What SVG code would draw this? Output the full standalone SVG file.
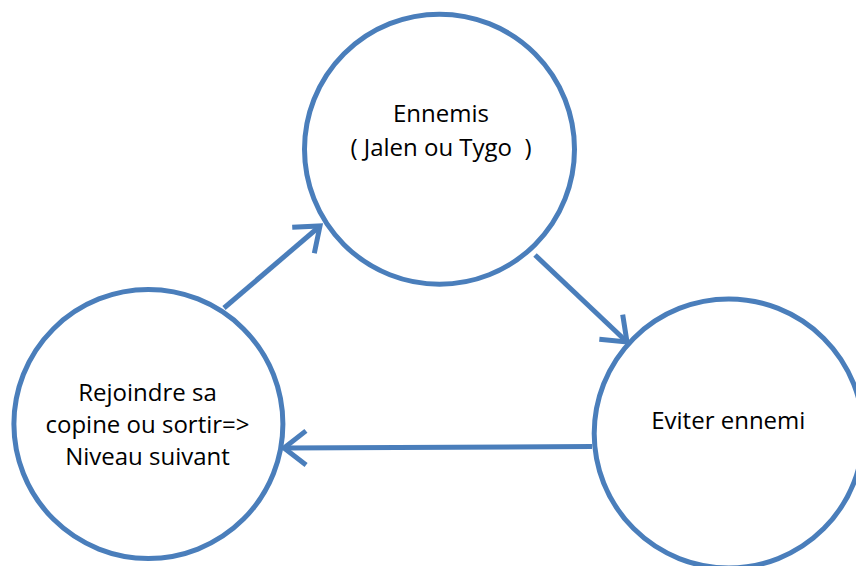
<svg xmlns="http://www.w3.org/2000/svg" width="856" height="566" viewBox="0 0 856 566">
  <style>
    .node { fill: #ffffff; stroke: #4A7EBB; stroke-width: 5; }
    .label { font-family: "Open Sans", "Liberation Sans", sans-serif; font-size: 24px; fill: #000000; text-anchor: middle; white-space: pre; }
    .edge { fill: none; stroke: #4A7EBB; stroke-width: 5; }
  </style>
  <defs>
    <marker id="open" markerUnits="userSpaceOnUse" markerWidth="40" markerHeight="40" viewBox="-30 -20 34 40" refX="0" refY="0" orient="auto" overflow="visible">
      <path d="M -22 -17 L 0 0 L -22 17" fill="none" stroke="#4A7EBB" stroke-width="5"/>
    </marker>
  </defs>
  <rect width="856" height="566" fill="#ffffff"/>
  <g id="node-ennemis">
    <circle class="node" cx="439.5" cy="149.2" r="135"/>
    <text class="label" x="441" y="122">Ennemis</text>
    <text class="label" x="441" y="156">( Jalen ou Tygo  )</text>
  </g>
  <g id="node-rejoindre">
    <circle class="node" cx="148.4" cy="424" r="134.5"/>
    <text class="label" x="147.5" y="401">Rejoindre sa</text>
    <text class="label" x="147.5" y="433">copine ou sortir=&gt;</text>
    <text class="label" x="147.5" y="465">Niveau suivant</text>
  </g>
  <g id="node-eviter">
    <circle class="node" cx="728.7" cy="433.5" r="134.5"/>
    <text class="label" x="728.3" y="429">Eviter ennemi</text>
  </g>
  <g id="connectors">
    <line class="edge" x1="224" y1="308" x2="320" y2="226" marker-end="url(#open)"/>
    <line class="edge" x1="535" y1="255" x2="627" y2="342" marker-end="url(#open)"/>
    <line class="edge" x1="592" y1="446.5" x2="284" y2="448" marker-end="url(#open)"/>
  </g>
</svg>
